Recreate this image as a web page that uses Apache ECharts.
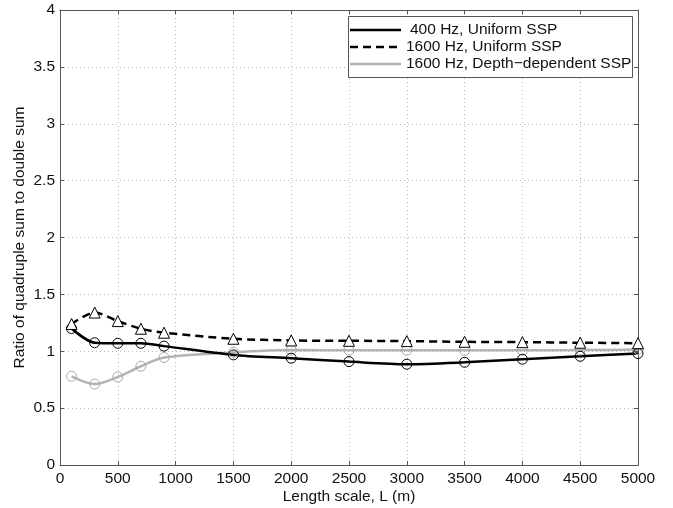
<!DOCTYPE html>
<html><head><meta charset="utf-8">
<script src="https://cdn.jsdelivr.net/npm/echarts@6/dist/echarts.min.js"></script>
<style>html,body{margin:0;padding:0;background:#fff}#c{width:673px;height:508px}</style>
</head><body><div id="c"></div>
<script>
const lengthScale = [100, 300, 500, 700, 900, 1500, 2000, 2500, 3000, 3500, 4000, 4500, 5000];
const uniform400 = [1.20, 1.075, 1.07, 1.07, 1.045, 0.968, 0.939, 0.909, 0.886, 0.903, 0.930, 0.956, 0.980];
const uniform1600 = [1.24, 1.34, 1.265, 1.198, 1.163, 1.11, 1.095, 1.092, 1.089, 1.083, 1.08, 1.075, 1.071];
const depth1600 = [0.78, 0.712, 0.774, 0.868, 0.945, 0.99, 1.01, 1.009, 1.009, 1.008, 1.008, 1.01, 1.015];
const seriesNames = ['400 Hz, Uniform SSP', '1600 Hz, Uniform SSP', '1600 Hz, Depth\u2212dependent SSP'];

const font = 'Liberation Sans, Arial, Helvetica, sans-serif';
const axisCol = '#555';
function pairs(ys){ return lengthScale.map((x,i)=>[x, ys[i]]); }

const chart = echarts.init(document.getElementById('c'));
const gridL = 60, gridT = 10, gridR = 35, gridB = 43;
const splitLine = {show:true, lineStyle:{color:'#bbb', type:[1,3], width:1}};
const tick = {show:true, inside:true, length:4, lineStyle:{color:axisCol, width:1}};
chart.setOption({
  animation:false,
  backgroundColor:'#fff',
  grid:{left:gridL, right:gridR, top:gridT, bottom:gridB, containLabel:false, outerBoundsMode:'none'},
  xAxis:[{
    type:'value', min:0, max:5000, interval:500,
    name:'Length scale, L (m)', nameLocation:'middle', nameGap:24, nameMoveOverlap:false,
    nameTextStyle:{fontFamily:font, fontSize:15.5, color:'#111', verticalAlign:'top'},
    axisLine:{show:true, onZero:false, lineStyle:{color:axisCol, width:1}},
    axisTick: tick,
    axisLabel:{fontFamily:font, fontSize:15.5, color:'#111', margin:6, formatter:v=>String(v)},
    splitLine: splitLine
  },{
    type:'value', min:0, max:5000, interval:500, position:'top',
    axisLine:{show:true, onZero:false, lineStyle:{color:axisCol, width:1}},
    axisTick: tick,
    axisLabel:{show:false}, splitLine:{show:false}
  }],
  yAxis:[{
    type:'value', min:0, max:4, interval:0.5, position:'left',
    name:'Ratio of quadruple sum to double sum', nameLocation:'middle', nameGap:32, nameMoveOverlap:false,
    nameTextStyle:{fontFamily:font, fontSize:15.5, color:'#111'},
    axisLine:{show:true, onZero:false, lineStyle:{color:axisCol, width:1}},
    axisTick: tick,
    axisLabel:{fontFamily:font, fontSize:15.5, color:'#111', margin:5, formatter:v=>String(v)},
    splitLine: splitLine
  },{
    type:'value', min:0, max:4, interval:0.5, position:'right',
    axisLine:{show:true, onZero:false, lineStyle:{color:axisCol, width:1}},
    axisTick: tick,
    axisLabel:{show:false}, splitLine:{show:false}
  }],
  series:[{
    name:seriesNames[2], type:'line', data:pairs(depth1600), smooth:0.3,
    symbol:'circle', symbolSize:10,
    lineStyle:{color:'#b3b3b3', width:2.5},
    itemStyle:{color:'transparent', borderColor:'#aaa', borderWidth:1}
  },{
    name:seriesNames[0], type:'line', data:pairs(uniform400), smooth:0.3,
    symbol:'circle', symbolSize:10,
    lineStyle:{color:'#000', width:2.5},
    itemStyle:{color:'transparent', borderColor:'#000', borderWidth:1}
  },{
    name:seriesNames[1], type:'line', data:pairs(uniform1600), smooth:0.3,
    symbol:'triangle', symbolSize:11,
    lineStyle:{color:'#000', width:2.5, type:[8,5]},
    itemStyle:{color:'#fff', borderColor:'#000', borderWidth:1}
  }],
  graphic:[
    {type:'rect', shape:{x:348.5, y:16.5, width:284, height:61}, style:{fill:'#fff', stroke:'#555', lineWidth:1}, z:100},
    {type:'line', shape:{x1:350, y1:30, x2:401, y2:30}, style:{stroke:'#000', lineWidth:2.5}, z:101},
    {type:'line', shape:{x1:350, y1:47, x2:401, y2:47}, style:{stroke:'#000', lineWidth:2.5, lineDash:[8,5]}, z:101},
    {type:'line', shape:{x1:350, y1:64, x2:401, y2:64}, style:{stroke:'#b3b3b3', lineWidth:2.5}, z:101},
    {type:'text', x:410, y:30, style:{text:seriesNames[0], font:'15.5px '+font, fill:'#111', textVerticalAlign:'middle'}, z:101},
    {type:'text', x:406, y:47, style:{text:seriesNames[1], font:'15.5px '+font, fill:'#111', textVerticalAlign:'middle'}, z:101},
    {type:'text', x:406, y:64, style:{text:seriesNames[2], font:'15.5px '+font, fill:'#111', textVerticalAlign:'middle'}, z:101}
  ]
});
</script></body></html>
